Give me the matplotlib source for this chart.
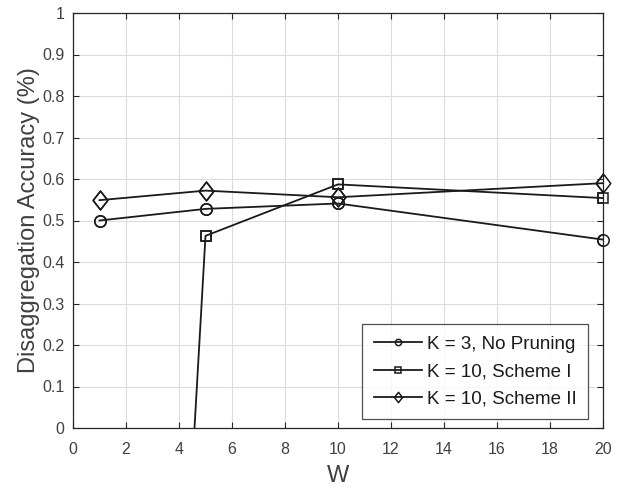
import matplotlib
matplotlib.use("Agg")
import matplotlib.pyplot as plt
from matplotlib.path import Path
import numpy as np

plt.rcParams['font.family'] = ['Liberation Sans', 'DejaVu Sans']

W = [1, 5, 10, 20]
no_pruning = [0.500, 0.528, 0.541, 0.454]
scheme1 = [-4.0, 0.463, 0.587, 0.554]
scheme2 = [0.549, 0.572, 0.556, 0.590]
labels = ['K = 3, No Pruning', 'K = 10, Scheme I', 'K = 10, Scheme II']
xticks = list(range(0, 21, 2))
yticks = [0, 0.1, 0.2, 0.3, 0.4, 0.5, 0.6, 0.7, 0.8, 0.9, 1]
ytick_labels = ['0', '0.1', '0.2', '0.3', '0.4', '0.5', '0.6', '0.7', '0.8', '0.9', '1']

diamond = Path([(0, 1), (0.78, 0), (0, -1), (-0.78, 0), (0, 1)],
               [Path.MOVETO, Path.LINETO, Path.LINETO, Path.LINETO, Path.CLOSEPOLY])

fig = plt.figure(figsize=(6.24, 4.88), dpi=100)
ax = fig.add_axes([73/624, 1-428/488, (603-73)/624, (428-13)/488])

lc = '#1a1a1a'
kw = dict(color=lc, lw=1.3, markerfacecolor='none', markeredgecolor=lc, markeredgewidth=1.1)
series = [(no_pruning, 'o', 8.2), (scheme1, 's', 7.0), (scheme2, diamond, 13.5)]
for (vals, mk, ms), lab in zip(series, labels):
    ax.plot(W, vals, marker=mk, markersize=ms, label=lab, **kw)
    x = np.array(W, dtype=float)
    y = np.array(vals, dtype=float)
    inside = (y >= 0) & (y <= 1)
    ax.plot(x[inside], y[inside], ls='none', marker=mk, markersize=ms,
            markerfacecolor='none', markeredgecolor=lc, markeredgewidth=1.1,
            clip_on=False, zorder=3)

ax.set_xlim(0, 20)
ax.set_ylim(0, 1)
ax.set_xticks(xticks)
ax.set_yticks(yticks)
ax.set_yticklabels(ytick_labels)
ax.grid(True, color='#dcdcdc', lw=0.8)
ax.set_axisbelow(True)
ax.tick_params(direction='in', top=True, right=True, length=4, width=0.8,
               colors='#262626', labelcolor='#404040', labelsize=11.5)
ax.tick_params(axis='y', pad=6)
ax.tick_params(axis='x', pad=10)
for s in ax.spines.values():
    s.set_color('#262626')
    s.set_linewidth(0.9)

ax.set_xlabel('W', fontsize=17, color='#404040', labelpad=6)
ax.set_ylabel('Disaggregation Accuracy (%)', fontsize=17, color='#404040', labelpad=2)

leg = ax.legend(loc='lower right', fontsize=13.5, frameon=True, fancybox=False,
                edgecolor='#262626', handlelength=2.6, handletextpad=0.25,
                borderpad=0.6, labelspacing=0.55, markerscale=0.55,
                borderaxespad=0.0, bbox_to_anchor=(0.972, 0.022))
leg.get_frame().set_linewidth(0.9)
leg.set_zorder(5)
for t in leg.get_texts():
    t.set_color('#1a1a1a')

fig.savefig('out.png', dpi=100)
